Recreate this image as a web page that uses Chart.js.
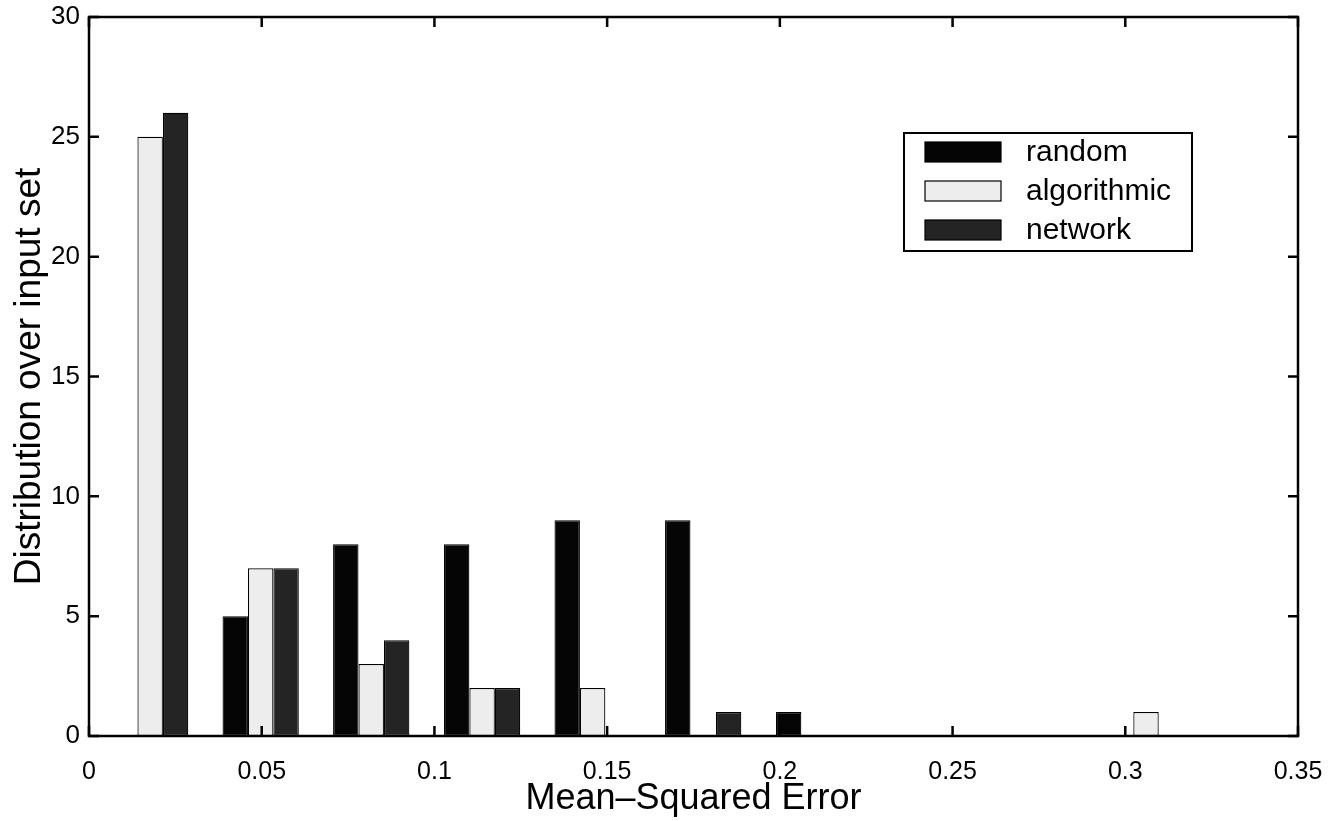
<!DOCTYPE html>
<html>
<head>
<meta charset="utf-8">
<style>
    html, body { margin: 0; padding: 0; background: #fff; }
    canvas { display: block; }
</style>
</head>
<body>
<canvas id="mse" width="1336" height="821"></canvas>
<script src="https://cdn.jsdelivr.net/npm/chart.js"></script>
<script>
    // bin centres of the histogram (mean-squared error)
    const binCentres = [0.0177, 0.0497, 0.0817, 0.1138, 0.1458, 0.1778, 0.2099, 0.2419, 0.2740, 0.3060];
    // counts per bin, one list per method
    const randomCounts = [0, 5, 8, 8, 9, 9, 1, 0, 0, 0];
    const algorithmicCounts = [25, 7, 3, 2, 2, 0, 0, 0, 0, 1];
    const networkCounts = [26, 7, 4, 2, 0, 1, 0, 0, 0, 0];
    const seriesNames = ['random', 'algorithmic', 'network'];
    const seriesColors = ['#050505', '#ededed', '#242424'];

    const fontFamily = '"Liberation Sans", Arial, Helvetica, sans-serif';

    const toPoints = (counts) => counts.map((c, i) => ({ x: binCentres[i], y: c }));

    //frame, inward ticks and the legend box
    const matlabAxes = {
        id: 'matlabAxes',
        afterDatasetsDraw(chart) {
            const { ctx, chartArea: a, scales } = chart;
            const tick = 10;
            ctx.save();
            ctx.strokeStyle = '#000';
            ctx.lineWidth = 2.5;
            ctx.strokeRect(a.left, a.top, a.right - a.left, a.bottom - a.top);

            ctx.beginPath();
            scales.x.ticks.forEach(t => {
                const px = scales.x.getPixelForValue(t.value);
                ctx.moveTo(px, a.bottom); ctx.lineTo(px, a.bottom - tick);
                ctx.moveTo(px, a.top); ctx.lineTo(px, a.top + tick);
            });
            scales.y.ticks.forEach(t => {
                const py = scales.y.getPixelForValue(t.value);
                ctx.moveTo(a.left, py); ctx.lineTo(a.left + tick, py);
                ctx.moveTo(a.right, py); ctx.lineTo(a.right - tick, py);
            });
            ctx.stroke();

            /*Legend*/
            const box = { left: 904, top: 133, width: 288, height: 118 };
            ctx.fillStyle = '#fff';
            ctx.fillRect(box.left, box.top, box.width, box.height);
            ctx.lineWidth = 2;
            ctx.strokeRect(box.left, box.top, box.width, box.height);
            ctx.font = `30px ${fontFamily}`;
            ctx.textBaseline = 'middle';
            chart.data.datasets.forEach((ds, i) => {
                const cy = box.top + 19 + i * 39;
                ctx.fillStyle = ds.backgroundColor;
                ctx.fillRect(box.left + 21, cy - 10, 76, 20);
                ctx.lineWidth = 1.2;
                ctx.strokeRect(box.left + 21, cy - 10, 76, 20);
                ctx.fillStyle = '#000';
                ctx.fillText(ds.label, box.left + 122, cy + 1);
            });
            ctx.restore();
        }
    };

    new Chart(document.getElementById('mse'), {
        type: 'bar',
        data: {
            datasets: seriesNames.map((name, i) => ({
                label: name,
                data: toPoints([randomCounts, algorithmicCounts, networkCounts][i]),
                backgroundColor: seriesColors[i],
                borderColor: '#000',
                borderWidth: 1.2,
                borderSkipped: false,
                categoryPercentage: 0.69,
                barPercentage: 1.0
            }))
        },
        options: {
            responsive: false,
            animation: false,
            layout: { padding: { top: 17, right: 38, left: 0, bottom: 0 } },
            plugins: {
                legend: { display: false },
                tooltip: { enabled: false }
            },
            scales: {
                x: {
                    type: 'linear',
                    offset: false,
                    min: 0,
                    max: 0.35,
                    grid: { display: false, drawTicks: false },
                    border: { display: false },
                    ticks: {
                        stepSize: 0.05,
                        autoSkip: false,
                        maxRotation: 0,
                        padding: 21,
                        color: '#000',
                        font: { family: fontFamily, size: 25 },
                        callback: (v) => String(Number(v.toFixed(2)))
                    },
                    title: {
                        display: true,
                        text: 'Mean\u2013Squared Error',
                        color: '#000',
                        padding: { top: -3, bottom: 0 },
                        font: { family: fontFamily, size: 36 }
                    },
                    afterFit(scale) {
                        scale.height = 85;
                        scale.paddingLeft = 0;
                        scale.paddingRight = 0;
                    }
                },
                y: {
                    min: 0,
                    max: 30,
                    grid: { display: false, drawTicks: false },
                    border: { display: false },
                    ticks: {
                        stepSize: 5,
                        padding: 9,
                        color: '#000',
                        font: { family: fontFamily, size: 26 }
                    },
                    title: {
                        display: true,
                        text: 'Distribution over input set',
                        color: '#000',
                        padding: { top: 8, bottom: 0 },
                        font: { family: fontFamily, size: 37 }
                    },
                    afterFit(scale) {
                        scale.width = 89;
                        scale.paddingTop = 0;
                        scale.paddingBottom = 0;
                    }
                }
            }
        },
        plugins: [matlabAxes]
    });
</script>
</body>
</html>
